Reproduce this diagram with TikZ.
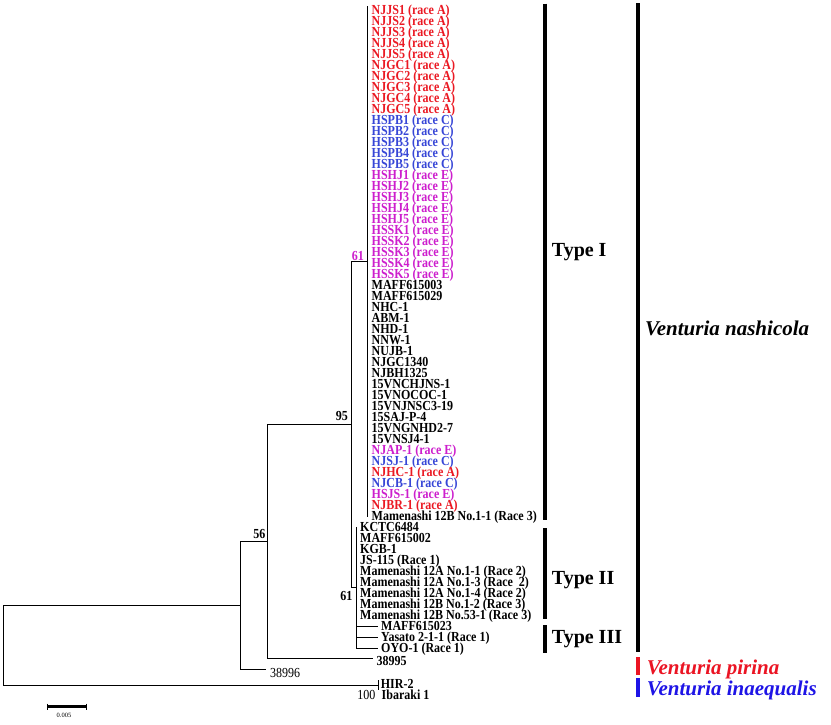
\documentclass[tikz,border=0pt]{standalone}
\usepackage{fontspec}
\setmainfont{Liberation Serif}
\newfontfamily\leaffont[FakeStretch=0.87]{Liberation Serif}
\definecolor{raceA}{RGB}{235,25,35}
\definecolor{raceC}{RGB}{55,70,215}
\definecolor{raceE}{RGB}{205,30,205}
\definecolor{pirred}{RGB}{235,20,35}
\definecolor{inablue}{RGB}{30,20,230}
\begin{document}
\begin{tikzpicture}[x=1pt,y=-1pt,
  leaf/.style={anchor=base west,inner sep=0pt,font=\leaffont\fontsize{13.8}{14}\selectfont\bfseries},
  leafreg/.style={anchor=base west,inner sep=0pt,font=\leaffont\fontsize{13.8}{14}\selectfont},
  boot/.style={anchor=base east,inner sep=0pt,font=\leaffont\fontsize{13.8}{14}\selectfont\bfseries},
  bootreg/.style={anchor=base east,inner sep=0pt,font=\leaffont\fontsize{13.8}{14}\selectfont},
  typelab/.style={anchor=base west,inner sep=0pt,font=\fontsize{20}{22}\selectfont\bfseries},
  species/.style={anchor=base west,inner sep=0pt,font=\fontsize{21}{23}\selectfont\bfseries\itshape},
  branch/.style={line width=0.9pt},
  bar/.style={line width=4pt}]
\useasboundingbox (0,0) rectangle (831,724);
\fill[white] (0,0) rectangle (831,724);

% ---- Type I leaves (rows 0..46)
\foreach \t/\c [count=\i from 0] in {
 NJJS1 (race A)/raceA, NJJS2 (race A)/raceA, NJJS3 (race A)/raceA, NJJS4 (race A)/raceA, NJJS5 (race A)/raceA,
 NJGC1 (race A)/raceA, NJGC2 (race A)/raceA, NJGC3 (race A)/raceA, NJGC4 (race A)/raceA, NJGC5 (race A)/raceA,
 HSPB1 (race C)/raceC, HSPB2 (race C)/raceC, HSPB3 (race C)/raceC, HSPB4 (race C)/raceC, HSPB5 (race C)/raceC,
 HSHJ1 (race E)/raceE, HSHJ2 (race E)/raceE, HSHJ3 (race E)/raceE, HSHJ4 (race E)/raceE, HSHJ5 (race E)/raceE,
 HSSK1 (race E)/raceE, HSSK2 (race E)/raceE, HSSK3 (race E)/raceE, HSSK4 (race E)/raceE, HSSK5 (race E)/raceE,
 MAFF615003/black, MAFF615029/black, NHC-1/black, ABM-1/black, NHD-1/black, NNW-1/black, NUJB-1/black,
 NJGC1340/black, NJBH1325/black, 15VNCHJNS-1/black, 15VNOCOC-1/black, 15VNJNSC3-19/black, 15SAJ-P-4/black,
 15VNGNHD2-7/black, 15VNSJ4-1/black,
 NJAP-1 (race E)/raceE, NJSJ-1 (race C)/raceC, NJHC-1 (race A)/raceA, NJCB-1 (race C)/raceC,
 HSJS-1 (race E)/raceE, NJBR-1 (race A)/raceA, Mamenashi 12B No.1-1 (Race 3)/black}
 { \node[leaf,text=\c] (L\i) at (371.5,{14.8+11*\i}) {\t}; }

% ---- Type II leaves (rows 47..55)
\foreach \t [count=\i from 47] in {
 KCTC6484, MAFF615002, KGB-1, JS-115 (Race 1), Mamenashi 12A No.1-1 (Race 2),
 Mamenashi 12A No.1-3 (Race~~2), Mamenashi 12A No.1-4 (Race 2), Mamenashi 12B No.1-2 (Race 3),
 Mamenashi 12B No.53-1 (Race 3)}
 { \node[leaf] (L\i) at (360,{14.8+11*\i}) {\t}; }

% ---- Type III leaves (rows 56..58)
\foreach \t [count=\i from 56] in {MAFF615023, Yasato 2-1-1 (Race 1), OYO-1 (Race 1)}
 { \node[leaf] (L\i) at (381,{14.8+11*\i}) {\t}; }

% ---- outgroups
\node[leaf] (o38995) at (376.5,665.5) {38995};
\node[leafreg] (o38996) at (270,677.5) {38996};
\node[leaf] (hir) at (380.7,688) {HIR-2};
\node[leaf] (iba) at (381.5,699.5) {Ibaraki 1};

% ---- internal nodes
\coordinate (n61)  at (367,261.7);
\coordinate (n95)  at (351.5,424.7);
\coordinate (nT23) at (356,587.8);
\coordinate (n56)  at (267.5,541.3);
\coordinate (nA)   at (240,605.2);
\coordinate (nHI)  at (378,685);

% Type I polytomy
\draw[branch] (367,6) -- (367,517);
\draw[branch] (n61) -| (351.5,587.8) -- (nT23);
% Type II / III polytomy
\draw[branch] (356,527.3) -- (356,648.3);
\draw[branch] (356,626.3) -- (378,626.3);
\draw[branch] (356,637.3) -- (378,637.3);
\draw[branch] (356,648.3) -- (378,648.3);
% 56 node
\draw[branch] (n95) -- (267.5,424.7) -- (267.5,658) -- (373,658);
\draw[branch] (n56) -- (240,541.3) -- (240,669) -- (266,669);
% root
\draw[branch] (nA) -- (3,605.2) -- (3,685) -- (nHI);
\draw[branch] (378,680) -- (378,690);

% bootstrap values
\node[boot,text=raceE] (b61a) at (364,260) {61};
\node[boot] (b95) at (348,420.5) {95};
\node[boot] (b56) at (265.5,538.5) {56};
\node[boot] (b61b) at (352.5,600) {61};
\node[bootreg] (b100) at (375.5,699.5) {100};

% clade bars
\draw[bar] (544.7,3.5) -- (544.7,520);
\draw[bar] (544.7,528) -- (544.7,619);
\draw[bar] (544.7,625) -- (544.7,653);
\draw[bar] (638,3) -- (638,652);
\draw[bar,pirred] (637.5,657) -- (637.5,675);
\draw[bar,inablue] (637.5,678) -- (637.5,697);

\node[typelab] (t1) at (551.7,256.6) {Type I};
\node[typelab] (t2) at (551.7,584.6) {Type II};
\node[typelab] (t3) at (551.7,643.6) {Type III};

\node[species] (vn) at (645,335) {Venturia nashicola};
\node[species,text=pirred] (vp) at (646.7,674) {Venturia pirina};
\node[species,text=inablue] (vi) at (646.7,695) {Venturia inaequalis};

% scale bar
\draw[line width=2.5pt] (47.5,706.5) -- (86.5,706.5);
\draw[line width=1.5pt] (47.5,703.5) -- (47.5,709.5);
\draw[line width=1.5pt] (86.5,703.5) -- (86.5,709.5);
\node[inner sep=0pt,font=\fontsize{6.5}{7}\selectfont] (sc) at (64,715.5) {0.005};
\end{tikzpicture}
\end{document}
